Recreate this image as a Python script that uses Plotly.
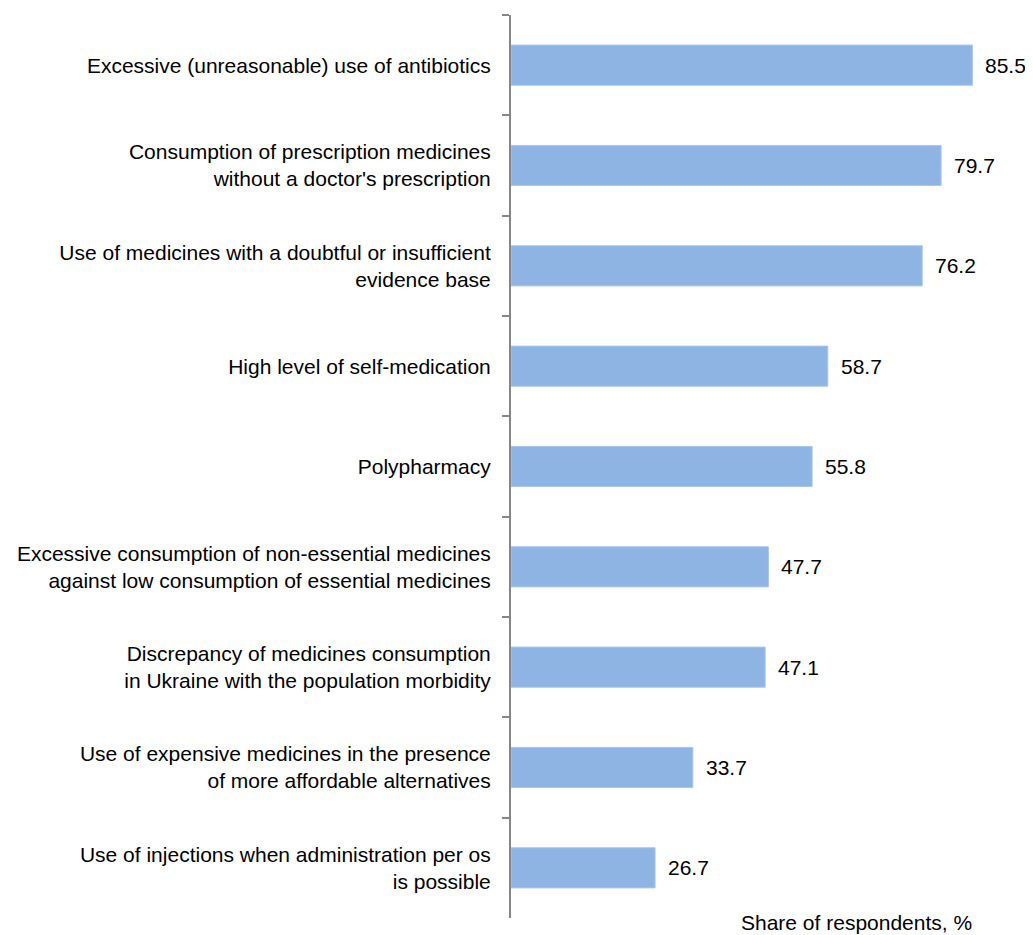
import plotly.graph_objects as go

categories = [
    "Excessive (unreasonable) use of antibiotics",
    "Consumption of prescription medicines<br>without a doctor's prescription",
    "Use of medicines with a doubtful or insufficient<br>evidence base",
    "High level of self-medication",
    "Polypharmacy",
    "Excessive consumption of non-essential medicines<br>against low consumption of essential medicines",
    "Discrepancy of medicines consumption<br>in Ukraine with the population morbidity",
    "Use of expensive medicines in the presence<br>of more affordable alternatives",
    "Use of injections when administration per os<br>is possible",
]
values = [85.5, 79.7, 76.2, 58.7, 55.8, 47.7, 47.1, 33.7, 26.7]
axis_title = "Share of respondents, %"

FONT = "Liberation Sans, Arial, sans-serif"
FS = 21

fig = go.Figure(go.Bar(
    x=values, y=categories, orientation="h",
    marker=dict(color="#8EB4E3", line=dict(color="#A9C6EA", width=1)),
    width=0.4, hoverinfo="skip",
))

for c, v in zip(categories, values):
    fig.add_annotation(x=v, y=c, text=f"{v:.1f}", showarrow=False,
                       xanchor="left", xshift=11, font=dict(size=FS, color="#000", family=FONT))

fig.add_annotation(xref="paper", yref="paper", x=0.669, y=0, xanchor="center",
                   yanchor="middle", yshift=-4,
                   text=axis_title, showarrow=False, font=dict(size=FS, color="#000", family=FONT))

fig.update_layout(
    width=1025, height=927,
    margin=dict(l=503, r=5, t=7, b=17),
    paper_bgcolor="white", plot_bgcolor="white",
    showlegend=False,
    font=dict(family=FONT, size=FS, color="#000"),
    xaxis=dict(visible=False, range=[0, 95.8], fixedrange=True),
    yaxis=dict(autorange="reversed", showline=True, linecolor="#868686", linewidth=2,
               ticks="outside", ticklen=7, tickcolor="#868686", tickwidth=2,
               tickson="boundaries", ticklabelstandoff=14, showgrid=False,
               tickfont=dict(size=FS, color="#000", family=FONT)),
)

fig.write_html("out.html")
